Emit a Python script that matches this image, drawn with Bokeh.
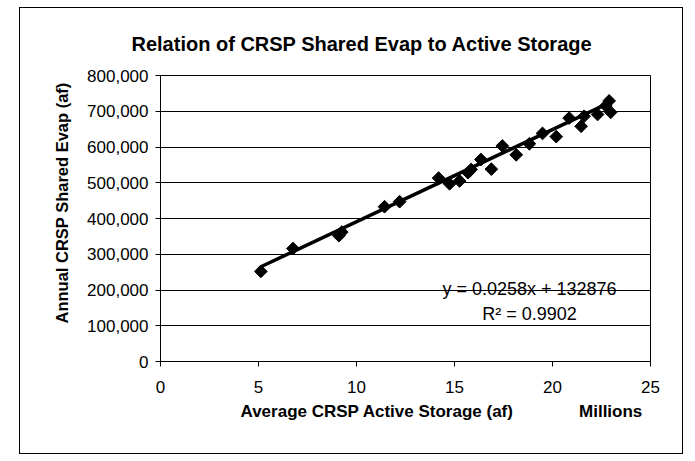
import math
from bokeh.plotting import figure
from bokeh.models import ColumnDataSource, FixedTicker, NumeralTickFormatter, Label, Range1d, Title
from bokeh.embed import file_html
from bokeh.resources import INLINE

# Data: average CRSP active storage (millions af) and annual shared evap (af)
storage_millions = [5.12, 6.76, 9.10, 9.25, 11.43, 12.20, 14.19, 14.75, 15.26, 15.69,
                    15.85, 16.35, 16.88, 17.44, 18.15, 18.82, 19.49, 20.19, 20.85,
                    21.46, 21.61, 22.30, 22.72, 22.89, 22.97]
shared_evap = [252000, 316000, 352000, 362000, 433000, 447000, 513000, 497000, 505000, 528000,
               537000, 565000, 538000, 603000, 578000, 609000, 638000, 629000, 681000,
               658000, 686000, 691000, 715000, 729000, 697000]

# Linear trendline (from chart): y = 0.0258x + 132876, x in af
trend_slope = 0.0258
trend_intercept = 132876
r_squared = 0.9902

x_ticks = [0, 5, 10, 15, 20, 25]
y_ticks = [0, 100000, 200000, 300000, 400000, 500000, 600000, 700000, 800000]

FONT = "Liberation Sans"
NB = "\u00a0"

p = figure(width=664, height=447, output_backend="svg", toolbar_location=None,
           x_range=Range1d(0, 25), y_range=Range1d(0, 800000),
           min_border_left=140, min_border_right=34, min_border_top=67, min_border_bottom=94)
p.margin = (7, 0, 0, 19)
p.styles = {"border": "1px solid black"}

p.background_fill_color = "white"
p.border_fill_color = "white"
p.outline_line_color = "black"
p.outline_line_width = 1

# main title
p.title.text = "Relation of CRSP Shared Evap to Active Storage"
p.title.align = "left"
p.title.offset = -29
p.title.standoff = 42
p.title.text_font = FONT
p.title.text_font_size = "20px"
p.title.text_font_style = "bold"
p.title.text_color = "black"

# gridlines
p.xgrid.visible = False
p.ygrid.ticker = FixedTicker(ticks=y_ticks)
p.ygrid.grid_line_color = "black"
p.ygrid.grid_line_width = 1

# axes
p.xaxis.ticker = FixedTicker(ticks=x_ticks)
p.yaxis.ticker = FixedTicker(ticks=y_ticks)
p.yaxis.formatter = NumeralTickFormatter(format="0,0")
for ax in (p.xaxis[0], p.yaxis[0]):
    ax.axis_line_color = "black"
    ax.major_tick_line_color = "black"
    ax.major_tick_out = 5
    ax.major_tick_in = 0
    ax.minor_tick_line_color = None
    ax.major_label_text_font = FONT
    ax.major_label_text_font_size = "17px"
    ax.major_label_text_color = "black"
p.xaxis.major_label_standoff = 14
p.yaxis.major_label_standoff = 7

# axis titles as side titles
ytitle = Title(text="Annual CRSP Shared Evap (af)", align="left", offset=38, standoff=28,
               text_font=FONT, text_font_size="16.5px", text_font_style="bold", text_color="black")
p.add_layout(ytitle, "left")
xtitle = Title(text="Average CRSP Active Storage (af)" + NB * 14 + "Millions", align="left",
               offset=80, standoff=8,
               text_font=FONT, text_font_size="17px", text_font_style="bold", text_color="black")
p.add_layout(xtitle, "below")

# trendline
tx = [min(storage_millions), max(storage_millions)]
ty = [trend_slope * v * 1e6 + trend_intercept for v in tx]
p.line(tx, ty, line_color="black", line_width=3.5)

# data points (diamonds)
src = ColumnDataSource(dict(x=storage_millions, y=shared_evap))
p.scatter("x", "y", source=src, marker="square", size=9, angle=math.pi / 4,
          fill_color="black", line_color="black")

def add_label(text, x, y, size):
    p.add_layout(Label(x=x, y=y, x_units="screen", y_units="screen", text=text,
                       text_font=FONT, text_font_size=size,
                       text_color="black", text_align="center", text_baseline="middle"))

add_label("y = %.4fx + %d" % (trend_slope, trend_intercept), 369, 72.5, "18px")
add_label("R² = %.4f" % r_squared, 369, 48, "18px")

open("out.html", "w").write(file_html(p, INLINE))
